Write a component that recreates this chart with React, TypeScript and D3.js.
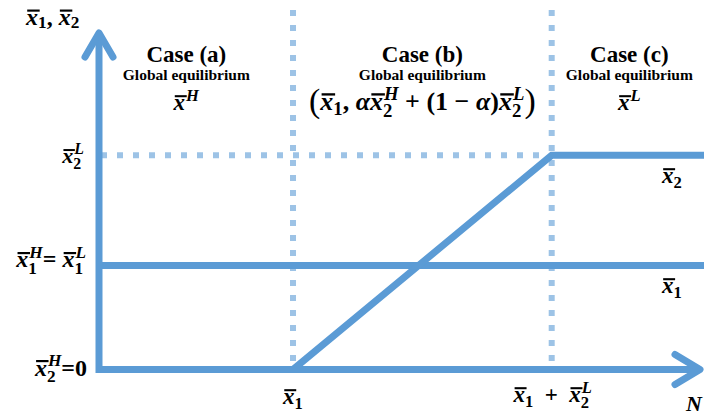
import React, { useEffect, useRef } from 'react';
import * as d3 from 'd3';

const W = 704;
const H = 419;

// Horizontal axis (N): case boundaries at x̄1 and x̄1 + x̄2^L
const nDomain = [0, 9.355];
const nBoundaries = [3, 7];
// Vertical axis levels
const yDomain = [0, 6.49];
const levelX2L = 4.12;
const levelX1 = 2;

// Piecewise-linear series, sampled at N = 0, x̄1, x̄1 + x̄2^L, right end
const seriesN = [0, 3, 7, 9.355];
const seriesX1 = [2, 2, 2, 2];
const seriesX2 = [0, 0, 4.12, 4.12];

// Case headings
const caseTitles = ['Case (a)', 'Case (b)', 'Case (c)'];
const caseSubtitles = ['Global equilibrium', 'Global equilibrium', 'Global equilibrium'];
const caseCentersN = [1.35, 5.0, 8.2];

const BLUE = '#5B9BD5';
const LIGHT = '#9DC3E6';
const SERIF = "'Liberation Serif', 'Times New Roman', serif";

type Tok = {
  t?: string;
  it?: boolean;
  bar?: boolean;
  scale?: number;
  weight?: string;
  sub?: string;
  sup?: string;
  subIt?: boolean;
  supIt?: boolean;
};

type Sel = d3.Selection<SVGGElement, unknown, null, undefined>;

function styled<T extends d3.BaseType>(
  s: d3.Selection<T, unknown, null, undefined>,
  size: number,
  italic: boolean,
  weight: string
) {
  return s
    .style('font-family', SERIF)
    .style('font-size', `${size}px`)
    .style('font-weight', weight)
    .style('font-style', italic ? 'italic' : 'normal')
    .style('white-space', 'pre');
}

function measure(g: Sel, text: string, size: number, italic: boolean, weight = 'bold') {
  const t = styled(g.append('text'), size, italic, weight).text(text);
  const w = (t.node() as SVGTextElement).getComputedTextLength();
  t.remove();
  return w;
}

// Lays out a small math expression (barred variables, stacked sub/superscripts)
// as one text element made of absolutely placed tspans, plus overbar lines.
function drawMath(
  g: Sel,
  toks: Tok[],
  x: number,
  y: number,
  size: number,
  anchor: 'start' | 'middle' | 'end',
  lone = 0.2
) {
  type Item = { text: string; x: number; y: number; size: number; it: boolean; bar: boolean; w: number; weight: string };
  const items: Item[] = [];
  let cur = 0;
  for (const tk of toks) {
    if (tk.t !== undefined) {
      const s = size * (tk.scale ?? 1);
      const weight = tk.weight ?? 'bold';
      const w = measure(g, tk.t, s, !!tk.it, weight);
      const yy = tk.scale && tk.scale > 1 ? y + (tk.scale - 1) * size * 0.25 : y;
      items.push({ text: tk.t, x: cur, y: yy, size: s, it: !!tk.it, bar: !!tk.bar, w, weight });
      cur += w;
    } else {
      const s = size * 0.72;
      let wSub = 0;
      let wSup = 0;
      const both = tk.sub !== undefined && tk.sup !== undefined;
      if (tk.sub !== undefined) {
        wSub = measure(g, tk.sub, s, !!tk.subIt);
        items.push({ text: tk.sub, x: cur, y: y + size * (both ? 0.27 : lone), size: s, it: !!tk.subIt, bar: false, w: wSub, weight: 'bold' });
      }
      if (tk.sup !== undefined) {
        wSup = measure(g, tk.sup, s, tk.supIt ?? true);
        items.push({ text: tk.sup, x: cur + 1, y: y - size * 0.4, size: s, it: tk.supIt ?? true, bar: false, w: wSup, weight: 'bold' });
      }
      cur += Math.max(wSub, wSup + 1);
    }
  }
  const off = anchor === 'start' ? 0 : anchor === 'middle' ? -cur / 2 : -cur;
  const text = g.append('text').attr('fill', '#000').style('white-space', 'pre').style('font-family', SERIF);
  for (const it of items) {
    styled(text.append('tspan'), it.size, it.it, it.weight)
      .attr('x', x + off + it.x)
      .attr('y', it.y)
      .text(it.text);
  }
  for (const it of items) {
    if (it.bar) {
      g.append('line')
        .attr('x1', x + off + it.x + it.size * 0.05)
        .attr('x2', x + off + it.x + it.w + it.size * 0.07)
        .attr('y1', y - it.size * 0.6)
        .attr('y2', y - it.size * 0.6)
        .attr('stroke', '#000')
        .attr('stroke-width', it.size * 0.09);
    }
  }
}

const xb: Tok = { t: 'x', it: true, bar: true };

export default function App() {
  const ref = useRef<SVGSVGElement | null>(null);

  useEffect(() => {
    const svg = d3.select(ref.current);
    svg.selectAll('*').remove();
    const g = svg.append('g') as unknown as Sel;

    const x = d3.scaleLinear().domain(nDomain).range([99, 704]);
    const y = d3.scaleLinear().domain(yDomain).range([369.5, 32]);

    // Dotted guides
    for (const b of nBoundaries) {
      g.append('line')
        .attr('x1', x(b))
        .attr('x2', x(b))
        .attr('y1', 10)
        .attr('y2', 366)
        .attr('stroke', LIGHT)
        .attr('stroke-width', 6)
        .attr('stroke-dasharray', '6 9');
    }
    g.append('line')
      .attr('x1', 101)
      .attr('x2', x(nBoundaries[1]) - 3)
      .attr('y1', y(levelX2L))
      .attr('y2', y(levelX2L))
      .attr('stroke', LIGHT)
      .attr('stroke-width', 6)
      .attr('stroke-dasharray', '6 10');

    // Series lines
    const line = d3
      .line<number>()
      .x((_, i) => x(seriesN[i]))
      .y((d) => y(d));
    g.append('path')
      .attr('d', line(seriesX1))
      .attr('fill', 'none')
      .attr('stroke', BLUE)
      .attr('stroke-width', 7);
    g.append('path')
      .attr('d', line(seriesX2))
      .attr('fill', 'none')
      .attr('stroke', BLUE)
      .attr('stroke-width', 7);

    // Axes
    const x0 = x(0);
    const y0 = y(0);
    const yTop = y(yDomain[1]);
    const xEnd = 700;
    g.append('path')
      .attr('d', `M${x0},${yTop + 2} L${x0},${y0} L${xEnd},${y0}`)
      .attr('fill', 'none')
      .attr('stroke', BLUE)
      .attr('stroke-width', 7)
      .attr('stroke-linejoin', 'miter');
    g.append('path')
      .attr('d', `M${x0 - 14},${yTop + 25} L${x0},${yTop + 1} L${x0 + 14},${yTop + 25}`)
      .attr('fill', 'none')
      .attr('stroke', BLUE)
      .attr('stroke-width', 7)
      .attr('stroke-linecap', 'round')
      .attr('stroke-linejoin', 'round');
    g.append('path')
      .attr('d', `M${xEnd - 25},${y0 - 15} L${xEnd},${y0} L${xEnd - 25},${y0 + 15}`)
      .attr('fill', 'none')
      .attr('stroke', BLUE)
      .attr('stroke-width', 7)
      .attr('stroke-linecap', 'round')
      .attr('stroke-linejoin', 'round');

    // Case headings
    caseTitles.forEach((t, i) => {
      const cx = x(caseCentersN[i]);
      styled(g.append('text'), 23, false, 'bold')
        .attr('x', cx)
        .attr('y', 62)
        .attr('text-anchor', 'middle')
        .text(t);
      styled(g.append('text'), 15.5, false, 'bold')
        .attr('x', cx)
        .attr('y', 80)
        .attr('text-anchor', 'middle')
        .text(caseSubtitles[i]);
    });
    drawMath(g, [xb, { sup: 'H' }], x(caseCentersN[0]), 110, 23, 'middle');
    drawMath(
      g,
      [
        { t: '(', scale: 1.3, weight: 'normal' },
        xb,
        { sub: '1' },
        { t: ', ' },
        { t: 'α', it: true },
        xb,
        { sub: '2', sup: 'H' },
        { t: ' + (1 − ' },
        { t: 'α', it: true },
        { t: ')' },
        xb,
        { sub: '2', sup: 'L' },
        { t: ')', scale: 1.3, weight: 'normal' },
      ],
      x(caseCentersN[1]),
      110,
      26,
      'middle'
    );
    drawMath(g, [xb, { sup: 'L' }], x(caseCentersN[2]), 110, 23, 'middle');

    // Axis titles
    drawMath(g, [xb, { sub: '1' }, { t: ', ' }, xb, { sub: '2' }], 26, 25, 24, 'start', 0.12);
    styled(g.append('text'), 22, true, 'bold').attr('x', 686).attr('y', 411).text('N');

    // Level labels on the vertical axis
    drawMath(g, [xb, { sub: '2', sup: 'L' }], 84, y(levelX2L) + 8, 22, 'end');
    drawMath(g, [xb, { sub: '1', sup: 'H' }, { t: '= ' }, xb, { sub: '1', sup: 'L' }], 86, y(levelX1) + 2, 24, 'end');
    drawMath(g, [xb, { sub: '2', sup: 'H' }, { t: '=0' }], 87, y(0) + 6, 24, 'end');

    // Boundary labels on the N axis
    drawMath(g, [xb, { sub: '1' }], x(nBoundaries[0]), 404, 23, 'middle');
    drawMath(g, [xb, { sub: '1' }, { t: '  +  ' }, xb, { sub: '2', sup: 'L' }], x(nBoundaries[1]) + 1, 402, 23, 'middle');

    // Series labels
    drawMath(g, [xb, { sub: '2' }], 662, 183, 23, 'start');
    drawMath(g, [xb, { sub: '1' }], 662, 293, 23, 'start');
  }, []);

  return (
    <svg
      ref={ref}
      width={W}
      height={H}
      viewBox={`0 0 ${W} ${H}`}
      style={{ position: 'absolute', left: 0, top: 0, background: '#fff', display: 'block' }}
    />
  );
}
